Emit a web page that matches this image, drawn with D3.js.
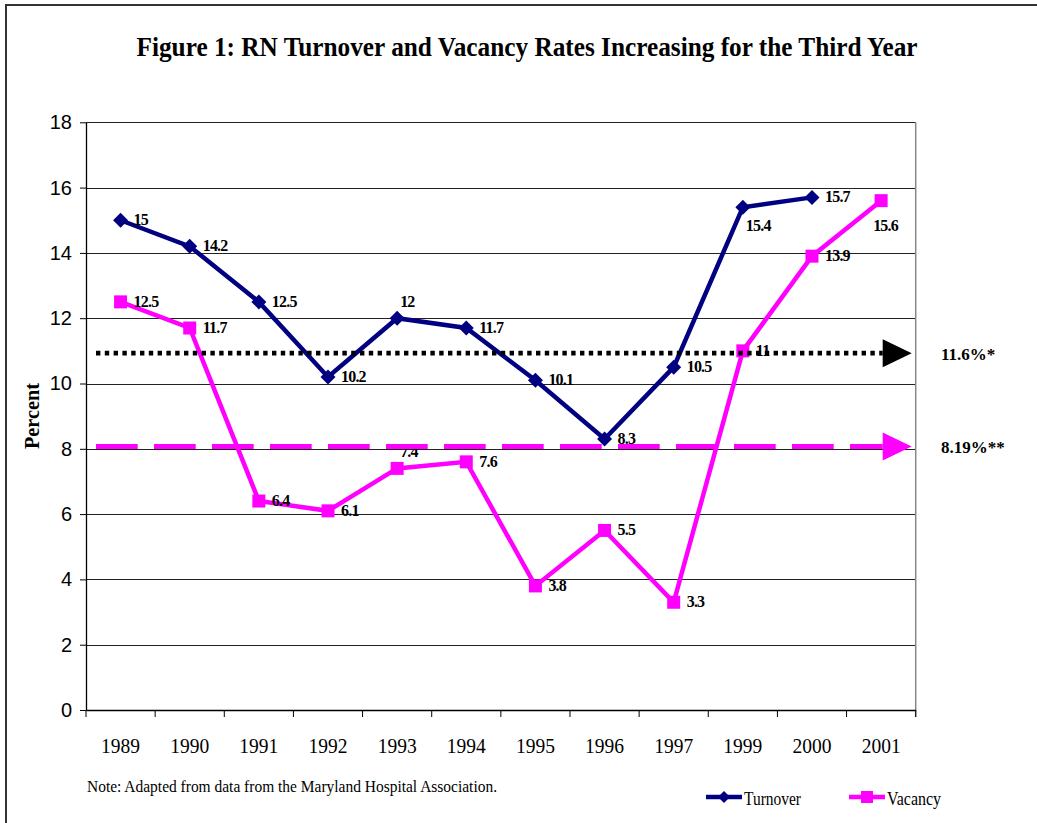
<!DOCTYPE html>
<html>
<head>
<meta charset="utf-8">
<script src="https://cdn.jsdelivr.net/npm/d3@7"></script>
<style>
  html, body { margin: 0; padding: 0; background: #fff; }
  svg { display: block; }
</style>
</head>
<body>
<svg id="chart" width="1037" height="823"></svg>
<script>
// ---- data ----
const years = ["1989","1990","1991","1992","1993","1994","1995","1996","1997","1999","2000","2001"];
const turnover = [15, 14.2, 12.5, 10.2, 12, 11.7, 10.1, 8.3, 10.5, 15.4, 15.7, null];
const vacancy  = [12.5, 11.7, 6.4, 6.1, 7.4, 7.6, 3.8, 5.5, 3.3, 11, 13.9, 15.6];
const turnoverLabelPos = ["r","r","r","r","a","r","r","r","r","b","r",null];
const vacancyLabelPos  = ["r","r","r","r","a","r","r","r","r","r","r","bl"];
const yTicks = [0, 2, 4, 6, 8, 10, 12, 14, 16, 18];
const refTurnover = 10.93;   // drawn position of the 11.6%* marker line
const refVacancy = 8.07;     // drawn position of the 8.19%** marker line
const refTurnoverLabel = "11.6%*";
const refVacancyLabel = "8.19%**";
const titleText = "Figure 1: RN Turnover and Vacancy Rates Increasing for the Third Year";
const noteText = "Note: Adapted from data from the Maryland Hospital Association.";
const seriesNames = ["Turnover", "Vacancy"];

// ---- layout ----
const svg = d3.select("#chart");
const L = 86, R = 915.7, T = 122.3, B = 710;
const navy = "#000080", magenta = "#FF00FF";
const serif = "'Liberation Serif', 'Times New Roman', serif";
const sans = "'Liberation Sans', Arial, sans-serif";

const x = d3.scaleBand().domain(years).range([L, R]).padding(0);
const y = d3.scaleLinear().domain([0, 18]).range([B, T]);
const cx = d => x(d) + x.bandwidth() / 2;

// outer border
svg.append("rect").attr("x", 6).attr("y", 5).attr("width", 1040).attr("height", 840)
  .attr("fill", "none").attr("stroke", "#333").attr("stroke-width", 2);

// title
svg.append("text").attr("x", 527).attr("y", 56).attr("text-anchor", "middle")
  .attr("font-family", serif).attr("font-weight", "bold").attr("font-size", 27)
  .attr("textLength", 781).attr("lengthAdjust", "spacingAndGlyphs")
  .text(titleText);

// gridlines
svg.append("g").selectAll("line").data(yTicks.filter(d => d > 0)).join("line")
  .attr("x1", L).attr("x2", R).attr("y1", d => Math.round(y(d)) + 0.5).attr("y2", d => Math.round(y(d)) + 0.5)
  .attr("stroke", "#222").attr("stroke-width", 1);

// right plot border
svg.append("line").attr("x1", R).attr("x2", R).attr("y1", y(18)).attr("y2", B + 7)
  .attr("stroke", "#888").attr("stroke-width", 1.5);

// y axis
const yAxis = svg.append("g").attr("transform", `translate(${L},0)`)
  .call(d3.axisLeft(y).tickValues(yTicks).tickSize(6).tickSizeOuter(0).tickPadding(8));
yAxis.select(".domain").attr("stroke", "#000").attr("stroke-width", 1.3);
yAxis.selectAll(".tick line").attr("stroke", "#000");
yAxis.selectAll("text").attr("font-family", sans).attr("font-size", 20).attr("fill", "#000");

// x axis
const xAxis = svg.append("g").attr("transform", `translate(0,${B})`)
  .call(d3.axisBottom(x).tickSize(0).tickSizeOuter(0).tickPadding(27));
xAxis.select(".domain").attr("stroke", "#000").attr("stroke-width", 1.3);
xAxis.selectAll("text").attr("font-family", serif).attr("font-size", 22).attr("fill", "#000")
  .attr("textLength", 39).attr("lengthAdjust", "spacingAndGlyphs");
// category boundary ticks
svg.append("g").selectAll("line").data(years.map(d => x(d)).concat([R])).join("line")
  .attr("x1", d => d).attr("x2", d => d).attr("y1", B).attr("y2", B + 7)
  .attr("stroke", "#000").attr("stroke-width", 1);

// y axis title
svg.append("text").attr("transform", "translate(39,416) rotate(-90)")
  .attr("text-anchor", "middle").attr("font-family", serif).attr("font-weight", "bold")
  .attr("font-size", 20).attr("textLength", 66).attr("lengthAdjust", "spacingAndGlyphs").text("Percent");

// series
function drawSeries(values, color, marker, labelPos) {
  const pts = years.map((yr, i) => ({ yr, v: values[i], pos: labelPos[i] })).filter(d => d.v != null);
  const line = d3.line().x(d => cx(d.yr)).y(d => y(d.v));
  svg.append("path").datum(pts).attr("d", line).attr("fill", "none")
    .attr("stroke", color).attr("stroke-width", 4.5).attr("stroke-linejoin", "miter");
  const g = svg.append("g");
  if (marker === "diamond") {
    g.selectAll("path").data(pts).join("path")
      .attr("d", d => { const px = cx(d.yr), py = y(d.v), r = 7.5;
        return `M${px},${py - r}L${px + r},${py}L${px},${py + r}L${px - r},${py}Z`; })
      .attr("fill", color);
  } else {
    g.selectAll("rect").data(pts).join("rect")
      .attr("x", d => cx(d.yr) - 6.5).attr("y", d => y(d.v) - 6.5)
      .attr("width", 13).attr("height", 13).attr("fill", color);
  }
  const off = { r: [13, 5, "start"], a: [3, -11, "start"], b: [3, 24, "start"], bl: [-8, 30, "start"] };
  svg.append("g").selectAll("text").data(pts).join("text")
    .attr("x", d => cx(d.yr) + off[d.pos][0]).attr("y", d => y(d.v) + off[d.pos][1])
    .attr("text-anchor", d => off[d.pos][2])
    .attr("font-family", serif).attr("font-weight", "bold").attr("font-size", 16)
    .attr("letter-spacing", -0.8)
    .text(d => d.v);
}
drawSeries(turnover, navy, "diamond", turnoverLabelPos);
drawSeries(vacancy, magenta, "square", vacancyLabelPos);

// reference arrows
function refLine(val, color, dash, width) {
  const yy = y(val);
  const x0 = L + 10, xh = R - 33, x1 = R - 4;
  svg.append("line").attr("x1", x0).attr("x2", xh).attr("y1", yy).attr("y2", yy)
    .attr("stroke", color).attr("stroke-width", width).attr("stroke-dasharray", dash);
  svg.append("path").attr("d", `M${xh},${yy - 14}L${x1},${yy}L${xh},${yy + 14}Z`).attr("fill", color);
}
refLine(refTurnover, "#000", "4.4 4.4", 4.8);
refLine(refVacancy, magenta, "41.7 16.3", 5);

svg.append("text").attr("x", 941).attr("y", 360).attr("font-family", serif).attr("font-weight", "bold")
  .attr("font-size", 17).text(refTurnoverLabel);
svg.append("text").attr("x", 941).attr("y", 453).attr("font-family", serif).attr("font-weight", "bold")
  .attr("font-size", 17).text(refVacancyLabel);

// note
svg.append("text").attr("x", 87).attr("y", 792).attr("font-family", serif).attr("font-size", 17)
  .attr("textLength", 410).attr("lengthAdjust", "spacingAndGlyphs").text(noteText);

// legend
const legendItems = [
  { name: seriesNames[0], color: navy, marker: "diamond", x0: 706, tl: 57 },
  { name: seriesNames[1], color: magenta, marker: "square", x0: 849, tl: 54 }
];
const lg = svg.append("g");
legendItems.forEach(it => {
  const ly = 797;
  lg.append("line").attr("x1", it.x0).attr("x2", it.x0 + 36).attr("y1", ly).attr("y2", ly)
    .attr("stroke", it.color).attr("stroke-width", 4.5);
  const mx = it.x0 + 18;
  if (it.marker === "diamond") {
    lg.append("path").attr("d", `M${mx},${ly - 6}L${mx + 6},${ly}L${mx},${ly + 6}L${mx - 6},${ly}Z`).attr("fill", it.color);
  } else {
    lg.append("rect").attr("x", mx - 6).attr("y", ly - 6).attr("width", 12).attr("height", 12).attr("fill", it.color);
  }
  lg.append("text").attr("x", it.x0 + 38).attr("y", ly + 8).attr("font-family", serif).attr("font-size", 18)
    .attr("textLength", it.tl).attr("lengthAdjust", "spacingAndGlyphs").text(it.name);
});
</script>
</body>
</html>
